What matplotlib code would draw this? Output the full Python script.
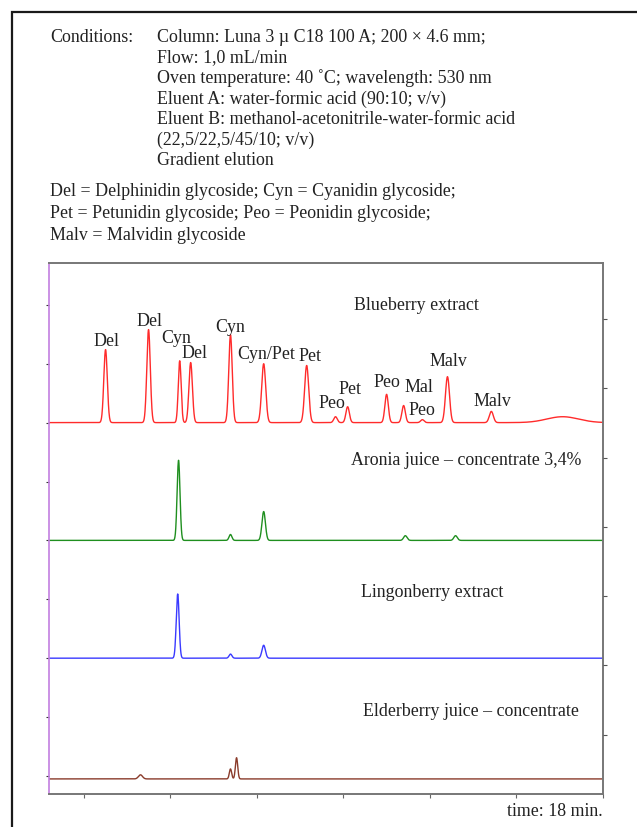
import numpy as np
import matplotlib
matplotlib.use("Agg")
import matplotlib.pyplot as plt
from matplotlib.patches import Rectangle

#===============================================================
# Data (time in min, height in trace units)

blue_t = [0.76, 2.25, 3.33, 3.71, 5.09, 6.24, 7.73, 8.73, 9.15, 10.50, 11.09, 11.74, 12.61, 14.13, 16.60]
blue_h = [1.24, 1.58, 1.05, 1.02, 1.49, 1.00, 0.97, 0.10, 0.27, 0.48, 0.29, 0.05, 0.78, 0.19, 0.10]
blue_w = [0.06, 0.06, 0.05, 0.06, 0.06, 0.07, 0.07, 0.06, 0.06, 0.06, 0.06, 0.06, 0.07, 0.07, 0.55]

aronia_t = [3.29, 5.09, 6.24, 11.15, 12.89]
aronia_h = [1.36, 0.10, 0.49, 0.08, 0.08]
aronia_w = [0.05, 0.05, 0.06, 0.06, 0.06]

lingon_t = [3.26, 5.09, 6.24]
lingon_h = [1.09, 0.07, 0.22]
lingon_w = [0.05, 0.05, 0.06]

elder_t = [1.97, 5.09, 5.30]
elder_h = [0.07, 0.17, 0.36]
elder_w = [0.07, 0.04, 0.04]

# peak labels on the blueberry trace: (text, time, height above baseline)
peak_labels = [("Del", 0.80, 1.37), ("Del", 2.29, 1.71), ("Cyn", 3.20, 1.42),
               ("Del", 3.85, 1.18), ("Cyn", 5.09, 1.61), ("Cyn/Pet", 6.34, 1.15),
               ("Pet", 7.83, 1.12), ("Peo", 8.60, 0.32), ("Pet", 9.22, 0.56),
               ("Peo", 10.50, 0.68), ("Mal", 11.63, 0.59), ("Peo", 11.74, 0.20),
               ("Malv", 12.65, 1.03), ("Malv", 14.17, 0.36)]

# trace titles: (text, time of centre, height)
trace_titles = [("Blueberry extract", 11.54, 7.98),
                ("Aronia juice \u2013 concentrate 3,4%", 13.27, 5.35),
                ("Lingonberry extract", 12.09, 3.11),
                ("Elderberry juice \u2013 concentrate", 13.44, 1.10)]

conditions = ["Column: Luna 3 \u00b5 C18 100 A; 200 \u00d7 4.6 mm;",
              "Flow: 1,0 mL/min",
              "Oven temperature: 40 \u02daC; wavelength: 530 nm",
              "Eluent A: water-formic acid (90:10; v/v)",
              "Eluent B: methanol-acetonitrile-water-formic acid",
              "(22,5/22,5/45/10; v/v)",
              "Gradient elution"]
legend_lines = ["Del = Delphinidin glycoside; Cyn = Cyanidin glycoside;",
                "Pet = Petunidin glycoside; Peo = Peonidin glycoside;",
                "Malv = Malvidin glycoside"]

#===============================================================
# helpers

def trace(t, pos, hts, wds):
    y = np.zeros_like(t)
    for p, h, w in zip(pos, hts, wds):
        y += h * np.exp(-0.5 * ((t - p) / w) ** 2)
    return y

plt.rcParams['font.family'] = ['Liberation Serif', 'DejaVu Serif']
FS = 12.9
TXT = '#222222'

fig = plt.figure(figsize=(6.37, 8.27), dpi=100)

# black frame running off the right / bottom edge
fig.patches.append(Rectangle((12/637, -0.05), 1.0, 1 - 12/827 + 0.05,
                             transform=fig.transFigure, fill=False,
                             edgecolor='#1a1a1a', linewidth=1.6))

# header text
fig.text(50/637, 1 - 37/827, "Conditions:", fontsize=FS, va='center', color=TXT)
for i, s in enumerate(conditions):
    fig.text(157/637, 1 - (37 + 20.6*i)/827, s, fontsize=FS, va='center', color=TXT)
for i, s in enumerate(legend_lines):
    fig.text(50/637, 1 - (192 + 21.5*i)/827, s, fontsize=FS, va='center', color=TXT)

#===============================================================
# chromatograms

ax = fig.add_axes([49/637, 33/827, 554/637, 531/827])
t = np.linspace(-1.2, 18, 4000)

series = [(blue_t, blue_h, blue_w, 6, '#ff2b2b'),
          (aronia_t, aronia_h, aronia_w, 4, '#1f8f1f'),
          (lingon_t, lingon_h, lingon_w, 2, '#3a3aff'),
          (elder_t, elder_h, elder_w, -0.05, '#8a3b2b')]
for pos, hts, wds, off, col in series:
    ax.plot(t, off + trace(t, pos, hts, wds), color=col, lw=1.0)

for txt, x, h in peak_labels:
    ax.text(x, 6 + h, txt, fontsize=FS, ha='center', va='center', color=TXT)
for txt, x, y in trace_titles:
    ax.text(x, y, txt, fontsize=FS, ha='center', va='center', color=TXT)

ax.set_xlim(-1.2, 18)
ax.set_ylim(-0.306, 8.71)
ax.set_xticks(np.arange(0, 19, 3))
ax.set_yticks(np.arange(0, 9, 1))
ax.set_xticklabels([])
ax.set_yticklabels([])
ax.tick_params(axis='x', direction='out', length=3, width=0.8, color='#666666')
ax.tick_params(axis='y', direction='out', length=2, width=0.8, color='#333333')

ax.spines['left'].set_color('#c27fe0')
ax.spines['left'].set_linewidth(1.2)
for s in ['top', 'right', 'bottom']:
    ax.spines[s].set_color('#777777')
    ax.spines[s].set_linewidth(1.4)

ax2 = ax.twinx()
ax2.set_ylim(ax.get_ylim())
ax2.set_yticks([0.70, 1.88, 3.06, 4.23, 5.40, 6.59, 7.76])
ax2.set_yticklabels([])
ax2.tick_params(axis='y', direction='out', length=3, width=0.8, color='#555555')
for s in ax2.spines.values():
    s.set_visible(False)

fig.text(603/637, 1 - 812/827, "time: 18 min.", fontsize=FS, ha='right', va='center', color=TXT)

fig.savefig("out.png", dpi=100)
